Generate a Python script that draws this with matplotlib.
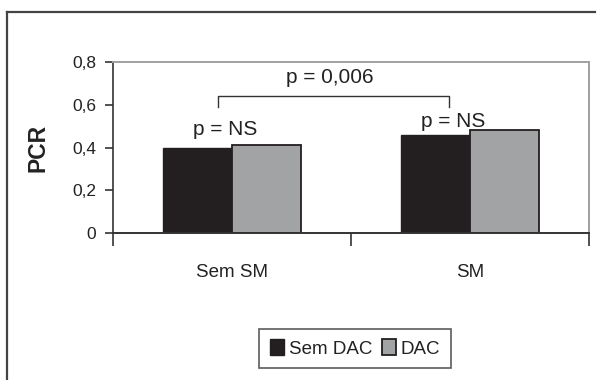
import matplotlib
matplotlib.use("Agg")
import matplotlib.pyplot as plt
from matplotlib.patches import Rectangle
from matplotlib.lines import Line2D
import numpy as np

plt.rcParams['font.family'] = ['Liberation Sans', 'DejaVu Sans']

categories = ["Sem SM", "SM"]
series_names = ["Sem DAC", "DAC"]
sem_dac = [0.40, 0.46]
dac = [0.41, 0.48]
yticks = [0, 0.2, 0.4, 0.6, 0.8]
ytick_labels = ["0", "0,2", "0,4", "0,6", "0,8"]
ns_labels = ["p = NS", "p = NS"]
p_label = "p = 0,006"

TXT = '#222222'
fig = plt.figure(figsize=(5.97, 3.80), dpi=100)
# outer frame lines
fig.add_artist(Line2D([7/597, 7/597], [0, 1-12/380], transform=fig.transFigure, color='#444444', lw=1.6))
fig.add_artist(Line2D([7/597, 595/597], [1-12/380, 1-12/380], transform=fig.transFigure, color='#444444', lw=1.6))

ax = fig.add_axes([113/597, (380-233)/380, 476/597, 171/380])
x = np.arange(len(categories))
w = 0.29
ax.bar(x - w/2, sem_dac, w, color='#231f20', edgecolor='#231f20', linewidth=1, label=series_names[0])
ax.bar(x + w/2, dac, w, color='#a2a3a5', edgecolor='#231f20', linewidth=1.3, label=series_names[1])

ax.set_xlim(-0.5, 1.5)
ax.set_ylim(0, 0.8)
ax.set_yticks(yticks)
ax.set_yticklabels(ytick_labels, fontsize=12.5, color=TXT)
ax.set_xticks([-0.5, 0.5, 1.5], minor=False)
ax.set_xticklabels([])
ax.set_xticks(x, minor=True)
ax.set_xticklabels(categories, minor=True, fontsize=13.5, color=TXT)
ax.tick_params(axis='x', which='major', direction='out', length=9, width=1.2, color='#333333')
ax.tick_params(axis='x', which='minor', length=0, pad=22)
ax.tick_params(axis='y', direction='out', length=6, width=1.2, color='#333333', pad=6)

ax.spines['left'].set_color('#333333')
ax.spines['left'].set_linewidth(1.2)
ax.spines['bottom'].set_color('#333333')
ax.spines['bottom'].set_linewidth(1.4)
ax.spines['top'].set_color('#a0a0a0')
ax.spines['top'].set_linewidth(1.4)
ax.spines['right'].set_color('#a0a0a0')
ax.spines['right'].set_linewidth(1.4)

ax.set_ylabel("PCR", fontsize=16.5, fontweight='bold', color=TXT)
ax.yaxis.set_label_coords(-(113-49)/476, 0.5)

# annotations
ax.text(-0.03, 0.458, ns_labels[0], ha='center', va='baseline', fontsize=15, color=TXT)
ax.text(0.928, 0.496, ns_labels[1], ha='center', va='baseline', fontsize=15, color=TXT)
ax.plot([-0.059, -0.059, 0.912, 0.912], [0.589, 0.641, 0.641, 0.589], color='#333333', lw=1)
ax.text(0.412, 0.702, p_label, ha='center', va='baseline', fontsize=15, color=TXT)

h = [Rectangle((0, 0), 1, 1, facecolor='#231f20', edgecolor='#231f20'),
     Rectangle((0, 0), 1, 1, facecolor='#a2a3a5', edgecolor='#231f20', lw=1.3)]
leg = fig.legend(h, series_names, loc='center', bbox_to_anchor=(355/597, 1-348.5/380),
                 ncol=2, frameon=True, fancybox=False, fontsize=13.5, handlelength=0.78, handleheight=0.9,
                 handletextpad=0.25, columnspacing=0.5, borderpad=0.55, borderaxespad=0)
for t in leg.get_texts():
    t.set_color(TXT)
leg.get_frame().set_edgecolor('#333333')
leg.get_frame().set_linewidth(1.2)

fig.savefig("out.png", dpi=100)
